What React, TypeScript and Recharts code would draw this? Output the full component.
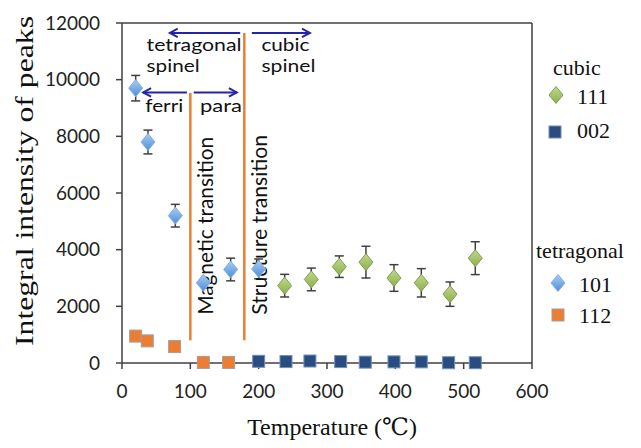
import React from "react";
import {
  ScatterChart,
  Scatter,
  XAxis,
  YAxis,
  ErrorBar,
  ReferenceLine,
  ReferenceDot,
} from "recharts";

const xTicks = [0, 100, 200, 300, 400, 500, 600];
const yTicks = [0, 2000, 4000, 6000, 8000, 10000, 12000];

// tetragonal (101) peak, with error
const tet101 = [
  { x: 20, y: 9700, err: 450 },
  { x: 38, y: 7800, err: 420 },
  { x: 78, y: 5200, err: 400 },
  { x: 119, y: 2830, err: null },
  { x: 159, y: 3300, err: 400 },
  { x: 200, y: 3320, err: 350 },
];

// tetragonal (112) peak
const tet112 = [
  { x: 20, y: 950 },
  { x: 37, y: 780 },
  { x: 77, y: 580 },
  { x: 119, y: 20 },
  { x: 156, y: 20 },
];

// cubic (111) peak, with error
const cub111 = [
  { x: 238, y: 2730, err: 400 },
  { x: 277, y: 2950, err: 400 },
  { x: 318, y: 3400, err: 380 },
  { x: 357, y: 3560, err: 560 },
  { x: 398, y: 3000, err: 470 },
  { x: 438, y: 2830, err: 500 },
  { x: 480, y: 2430, err: 430 },
  { x: 517, y: 3700, err: 580 },
];

// cubic (002) peak
const cub002 = [
  { x: 200, y: 60 },
  { x: 240, y: 50 },
  { x: 275, y: 70 },
  { x: 320, y: 50 },
  { x: 356, y: 30 },
  { x: 398, y: 40 },
  { x: 438, y: 40 },
  { x: 478, y: 10 },
  { x: 517, y: 10 },
];

const ORANGE = "#ED7D31";
const NAVY = "#2424A6";
const AXIS = "#404040";
const SANS = "Lato, 'Open Sans', sans-serif";
const SERIF = "'Liberation Serif', 'DejaVu Serif', serif";

const diamond = (fill: string, stroke: string) => (p: any) => {
  const { cx, cy } = p;
  if (cx == null || cy == null) return <g />;
  return (
    <polygon
      points={`${cx},${cy - 8.5} ${cx + 7},${cy} ${cx},${cy + 8.5} ${cx - 7},${cy}`}
      fill={fill}
      stroke={stroke}
      strokeWidth={1}
    />
  );
};

const square = (fill: string, stroke: string) => (p: any) => {
  const { cx, cy } = p;
  if (cx == null || cy == null) return <g />;
  return (
    <rect x={cx - 6} y={cy - 6} width={12} height={12} fill={fill} stroke={stroke} strokeWidth={1} />
  );
};

// line with open arrow head at (x2, y2)
const arrow = (p: any) => {
  const { x1, y1, x2, y2 } = p;
  if (x1 == null) return <g />;
  const a = Math.atan2(y2 - y1, x2 - x1);
  const L = 9;
  const s = 0.5;
  const ax = x2 - L * Math.cos(a - s);
  const ay = y2 - L * Math.sin(a - s);
  const bx = x2 - L * Math.cos(a + s);
  const by = y2 - L * Math.sin(a + s);
  return (
    <g>
      <line x1={x1} y1={y1} x2={x2} y2={y2} stroke={NAVY} strokeWidth={2} />
      <polyline points={`${ax},${ay} ${x2},${y2} ${bx},${by}`} fill="none" stroke={NAVY} strokeWidth={2} />
    </g>
  );
};

const note = (s: string, len: number, size = 18, vertical = false) => (p: any) => (
  <text
    x={p.cx}
    y={p.cy}
    style={{ fontFamily: SANS }}
    fontSize={size}
    fill="#111"
    textLength={len}
    lengthAdjust="spacingAndGlyphs"
    transform={vertical ? `rotate(-90 ${p.cx} ${p.cy})` : undefined}
  >
    {s}
  </text>
);

const serifText = { style: { fontFamily: SERIF }, fontSize: 22, fill: "#111" };

export default function App() {
  return (
    <div style={{ position: "absolute", left: 0, top: 0, width: 641, height: 448, background: "#fff" }}>
      <svg width={0} height={0} style={{ position: "absolute" }}>
        <defs>
          <linearGradient id="g101" x1="0" y1="0" x2="0" y2="1">
            <stop offset="0" stopColor="#A9CDF2" />
            <stop offset="1" stopColor="#4E8ED6" />
          </linearGradient>
          <linearGradient id="g111" x1="0" y1="0" x2="0" y2="1">
            <stop offset="0" stopColor="#BFD88A" />
            <stop offset="1" stopColor="#8DB04F" />
          </linearGradient>
        </defs>
      </svg>
      <ScatterChart
        width={641}
        height={448}
        margin={{ top: 23, right: 109, bottom: 0, left: 0 }}
      >
        <XAxis
          type="number"
          dataKey="x"
          domain={[0, 600]}
          ticks={xTicks}
          interval={0}
          height={85}
          tickSize={6}
          tickMargin={16}
          stroke={AXIS}
          strokeWidth={1.5}
          tick={{ fontFamily: SANS, fontSize: 19, fill: "#222" }}
        />
        <YAxis
          type="number"
          dataKey="y"
          domain={[0, 12000]}
          ticks={yTicks}
          interval={0}
          width={122}
          tickSize={6}
          tickMargin={16}
          stroke={AXIS}
          strokeWidth={1.5}
          tick={{ fontFamily: SANS, fontSize: 19, fill: "#222" }}
        />
        <ReferenceLine y={12000} stroke={AXIS} strokeWidth={1.5} />
        <ReferenceLine x={600} stroke={AXIS} strokeWidth={1.5} />

        <ReferenceLine segment={[{ x: 100, y: 800 }, { x: 100, y: 9530 }]} stroke={ORANGE} strokeWidth={2.5} />
        <ReferenceLine segment={[{ x: 179, y: 800 }, { x: 179, y: 11650 }]} stroke={ORANGE} strokeWidth={2.5} />

        <ReferenceLine segment={[{ x: 173, y: 11650 }, { x: 70, y: 11650 }]} shape={arrow} />
        <ReferenceLine segment={[{ x: 190, y: 11650 }, { x: 275, y: 11650 }]} shape={arrow} />
        <ReferenceLine segment={[{ x: 95, y: 9550 }, { x: 31, y: 9550 }]} shape={arrow} />
        <ReferenceLine segment={[{ x: 105, y: 9550 }, { x: 168, y: 9550 }]} shape={arrow} />

        <ReferenceDot x={36} y={11020} shape={note("tetragonal", 95)} />
        <ReferenceDot x={36} y={10270} shape={note("spinel", 53)} />
        <ReferenceDot x={204} y={11020} shape={note("cubic", 48)} />
        <ReferenceDot x={204} y={10270} shape={note("spinel", 54)} />
        <ReferenceDot x={34} y={8860} shape={note("ferri", 38)} />
        <ReferenceDot x={114} y={8860} shape={note("para", 42)} />
        <ReferenceDot x={133} y={1700} shape={note("Magnetic transition", 178, 21, true)} />
        <ReferenceDot x={212} y={1700} shape={note("Structure transition", 180, 21, true)} />

        <Scatter name="112" data={tet112} isAnimationActive={false} shape={square(ORANGE, "#A0A0A0")} />
        <Scatter name="002" data={cub002} isAnimationActive={false} shape={square("#2B4C7E", "#6D8FBF")} />
        <Scatter name="101" data={tet101} isAnimationActive={false} shape={diamond("url(#g101)", "#7FB0E6")}>
          <ErrorBar dataKey="err" direction="y" width={4.5} stroke={AXIS} strokeWidth={1.5} />
        </Scatter>
        <Scatter name="111" data={cub111} isAnimationActive={false} shape={diamond("url(#g111)", "#7E9E55")}>
          <ErrorBar dataKey="err" direction="y" width={4.5} stroke={AXIS} strokeWidth={1.5} />
        </Scatter>
      </ScatterChart>

      <svg width={641} height={448} style={{ position: "absolute", left: 0, top: 0, pointerEvents: "none" }}>
        <text
          transform="rotate(-90 33 181)"
          x={33}
          y={181}
          textAnchor="middle"
          style={{ fontFamily: SERIF }}
          fontSize={25}
          fill="#111"
          textLength={330}
          lengthAdjust="spacingAndGlyphs"
        >
          Integral intensity of peaks
        </text>
        <text x={332} y={435} textAnchor="middle" style={{ fontFamily: SERIF }} fontSize={24} fill="#111">
          Temperature (℃)
        </text>

        <text x={553} y={75} {...serifText}>cubic</text>
        {diamond("url(#g111)", "#7E9E55")({ cx: 556, cy: 95 })}
        <text x={577} y={104} {...serifText}>111</text>
        {square("#2B4C7E", "#6D8FBF")({ cx: 555, cy: 132 })}
        <text x={577} y={138} {...serifText}>002</text>

        <text x={536} y={258} {...serifText}>tetragonal</text>
        {diamond("url(#g101)", "#7FB0E6")({ cx: 558, cy: 283 })}
        <text x={579} y={292} {...serifText}>101</text>
        {square(ORANGE, "#A0A0A0")({ cx: 558, cy: 315 })}
        <text x={579} y={323} {...serifText}>112</text>
      </svg>
    </div>
  );
}
